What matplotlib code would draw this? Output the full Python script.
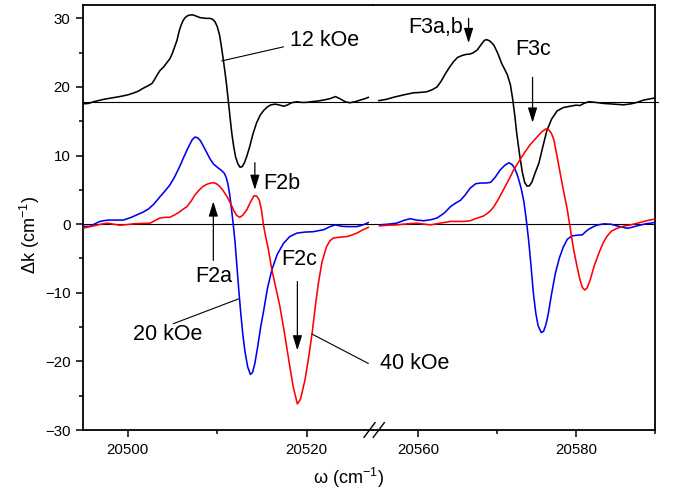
import matplotlib
matplotlib.use("Agg")
import matplotlib.pyplot as plt
from matplotlib.ticker import MultipleLocator, FormatStrFormatter
from matplotlib.patches import ArrowStyle

plt.rcParams["font.family"] = ["Liberation Sans", "DejaVu Sans"]
plt.rcParams["mathtext.fontset"] = "custom"
plt.rcParams["mathtext.rm"] = "Liberation Sans"

# Baseline of the vertically shifted 12 kOe trace
OFFSET_12 = 17.8

# ---- low-frequency window (cm^-1) ----
w_lo_12 = [20495.0, 20495.6, 20496.2, 20497.3, 20498.2, 20499.1, 20500.0, 20500.6, 20501.2,
           20501.7, 20502.3, 20502.7, 20503.0, 20503.3, 20503.6, 20504.0, 20504.4, 20504.7,
           20504.95, 20505.2, 20505.5, 20505.7, 20505.9, 20506.15, 20506.4, 20506.7, 20507.0,
           20507.3, 20507.6, 20508.1, 20508.8, 20509.2, 20509.5, 20509.75, 20510.0, 20510.25,
           20510.45, 20510.65, 20510.85, 20511.05, 20511.25, 20511.45, 20511.65, 20511.85,
           20512.05, 20512.3, 20512.55, 20512.8, 20513.05, 20513.3, 20513.6, 20514.0, 20514.4,
           20514.8, 20515.2, 20515.6, 20516.0, 20516.5, 20517.0, 20517.4, 20517.8, 20518.3,
           20518.9, 20519.4, 20519.9, 20520.5, 20521.2, 20521.9, 20522.6, 20523.2, 20523.7,
           20524.3, 20524.8, 20525.4, 20526.0, 20526.5, 20526.9]
k_lo_12 = [17.55, 17.6, 17.85, 18.2, 18.4, 18.6, 18.85, 19.1, 19.4,
           19.8, 20.2, 20.5, 21.1, 21.8, 22.4, 22.9, 23.6, 24.1,
           24.8, 25.7, 26.8, 27.9, 28.8, 29.6, 30.1, 30.4, 30.5,
           30.5, 30.35, 30.1, 30.0, 30.0, 29.85, 29.5, 28.8, 27.6,
           26.0, 24.2, 22.3, 20.2, 17.8, 15.3, 13.0, 11.2,
           9.8, 8.8, 8.3, 8.4, 9.0, 9.9, 11.2, 13.2, 14.8,
           15.9, 16.6, 17.1, 17.4, 17.5, 17.35, 17.2, 17.35, 17.7,
           17.85, 17.75, 17.75, 17.85, 17.95, 18.1, 18.3, 18.6, 18.3,
           17.85, 17.7, 17.85, 18.1, 18.3, 18.5]

w_lo_20 = [20495.0, 20495.8, 20496.4, 20496.9, 20497.5, 20498.0, 20499.5, 20500.3, 20501.0,
           20501.7, 20502.3, 20502.9, 20503.6, 20504.2, 20504.7, 20505.2, 20505.8, 20506.3,
           20506.8, 20507.2, 20507.5, 20507.8, 20508.1, 20508.4, 20508.8, 20509.2, 20509.6,
           20510.1, 20510.5, 20510.8, 20511.0, 20511.2, 20511.4, 20511.6, 20511.8, 20512.0,
           20512.2, 20512.4, 20512.6, 20512.85, 20513.1, 20513.4, 20513.7, 20513.95, 20514.2,
           20514.5, 20514.85, 20515.2, 20515.6, 20516.1, 20516.7, 20517.4, 20518.1, 20518.9,
           20519.8, 20520.7, 20521.3, 20521.9, 20522.6, 20523.2, 20523.9, 20524.5, 20525.6,
           20526.3, 20526.9]
k_lo_20 = [-0.35, -0.3, 0.1, 0.4, 0.55, 0.6, 0.6, 0.95, 1.35,
           1.75, 2.2, 2.9, 4.0, 4.9, 5.7, 6.8, 8.4, 9.9,
           11.3, 12.3, 12.7, 12.6, 12.2, 11.5, 10.5, 9.5, 8.75,
           8.2, 7.8, 7.4, 6.8, 5.8, 4.2, 2.1, -0.2, -2.8,
           -6.2, -9.5, -12.6, -16.0, -18.6, -20.8, -21.9, -21.6, -20.3,
           -18.0, -15.0, -12.5, -9.4, -6.65, -4.4, -2.8, -1.8, -1.3,
           -1.15, -1.1, -0.95, -0.8, -0.35, -0.1, -0.3, -0.35, -0.35,
           -0.1, 0.25]

w_lo_40 = [20495.0, 20495.6, 20496.2, 20497.0, 20497.7, 20498.4, 20499.1, 20500.0, 20500.6,
           20501.5, 20502.5, 20503.0, 20503.6, 20504.2, 20504.7, 20505.3, 20505.8, 20506.2,
           20506.6, 20507.1, 20507.5, 20508.0, 20508.4, 20508.9, 20509.3, 20509.6, 20509.9,
           20510.2, 20510.6, 20511.1, 20511.5, 20511.8, 20512.15, 20512.5, 20512.85, 20513.3,
           20513.7, 20514.1, 20514.4, 20514.7, 20514.95, 20515.15, 20515.4, 20515.7, 20516.1,
           20516.5, 20517.0, 20517.5, 20518.1, 20518.5, 20518.95, 20519.3, 20519.8, 20520.2,
           20520.6, 20520.95, 20521.3, 20521.7, 20522.2, 20522.6, 20523.0, 20523.7, 20524.5,
           20525.0, 20525.6, 20526.3, 20526.9]
k_lo_40 = [-0.6, -0.4, -0.25, 0.0, 0.15, 0.0, -0.15, -0.05, 0.05,
           0.1, 0.15, 0.5, 0.9, 1.0, 1.0, 1.4, 1.8, 2.2,
           2.55, 3.4, 4.25, 5.0, 5.5, 5.85, 6.0, 6.05, 5.9,
           5.6, 5.0, 4.0, 3.0, 2.1, 1.3, 1.0, 1.3, 2.1,
           3.2, 4.15, 4.1, 3.5, 2.0, 0.0, -1.8, -3.6, -6.65,
           -9.0, -12.0, -15.8, -20.7, -23.8, -26.2, -25.5, -22.7, -19.5,
           -15.9, -12.0, -8.6, -5.5, -3.3, -2.4, -2.0, -1.9, -1.8,
           -1.6, -1.3, -0.8, -0.45]

# ---- high-frequency window (cm^-1) ----
w_hi_12 = [20555.0, 20556.0, 20556.9, 20558.0, 20559.4, 20560.2, 20561.1, 20561.8, 20562.4,
           20562.9, 20563.5, 20564.0, 20564.5, 20565.0, 20565.6, 20566.1, 20566.6, 20567.0,
           20567.5, 20568.0, 20568.4, 20568.7, 20569.1, 20569.6, 20570.1, 20570.6, 20571.0,
           20571.3, 20571.7, 20572.0, 20572.25, 20572.5, 20572.85, 20573.2, 20573.5, 20573.8,
           20574.1, 20574.4, 20574.8, 20575.3, 20575.8, 20576.3, 20576.9, 20577.6, 20578.4,
           20579.3, 20580.0, 20580.5, 20581.0, 20581.6, 20582.5, 20583.5, 20584.8, 20586.0,
           20587.0, 20587.7, 20588.6, 20590.0]
k_hi_12 = [18.0, 18.2, 18.5, 18.8, 19.15, 19.2, 19.3, 19.6, 20.0,
           20.8, 22.0, 22.9, 23.7, 24.3, 24.6, 24.75, 24.8, 25.0,
           25.4, 26.2, 26.8, 26.9, 26.7, 26.1, 24.9, 23.4, 22.5,
           21.8, 20.3, 18.1, 15.8, 13.2, 10.2, 7.6, 6.1, 5.55,
           5.6, 6.1, 7.4, 8.9, 11.3, 13.6, 15.3, 16.5, 17.0,
           17.2, 17.35, 17.3, 17.6, 17.85, 17.75, 17.6, 17.5, 17.4,
           17.55, 17.75, 18.1, 18.4]

w_hi_20 = [20555.1, 20556.2, 20557.3, 20558.2, 20559.0, 20559.8, 20560.7, 20561.6, 20562.4,
           20563.3, 20564.1, 20564.8, 20565.4, 20566.0, 20566.6, 20567.3, 20567.9, 20568.6,
           20569.2, 20569.8, 20570.4, 20571.0, 20571.5, 20571.9, 20572.2, 20572.5, 20572.8,
           20573.1, 20573.4, 20573.7, 20574.0, 20574.3, 20574.6, 20574.9, 20575.2, 20575.6,
           20575.9, 20576.2, 20576.5, 20576.9, 20577.4, 20577.9, 20578.4, 20578.9, 20579.5,
           20580.2, 20580.8, 20581.3, 20581.8, 20582.6, 20583.5, 20584.4, 20585.2, 20586.5,
           20587.1, 20587.7, 20588.8, 20590.0]
k_hi_20 = [-0.1, 0.0, 0.15, 0.55, 0.8, 0.6, 0.5, 0.65, 0.9,
           1.6, 2.55, 3.1, 3.5, 4.3, 5.25, 5.9, 6.0, 6.0,
           6.1, 6.9, 7.9, 8.6, 8.95, 8.7, 8.2, 7.4, 6.3,
           5.0, 3.3, 0.7, -2.3, -6.0, -10.0, -12.9, -14.8, -15.8,
           -15.6, -14.6, -13.0, -10.2, -7.1, -4.9, -3.3, -2.2, -1.7,
           -1.6, -1.55, -1.0, -0.6, -0.15, 0.05, 0.0, -0.25, -0.6,
           -0.45, -0.25, 0.05, 0.25]

w_hi_40 = [20555.1, 20556.2, 20557.3, 20558.6, 20559.9, 20560.8, 20561.6, 20562.8, 20564.1,
           20565.8, 20566.6, 20567.5, 20568.3, 20568.8, 20569.2, 20569.6, 20570.2, 20570.8,
           20571.5, 20572.1, 20572.8, 20573.4, 20574.2, 20575.1, 20575.7, 20576.2, 20576.6,
           20576.9, 20577.2, 20577.6, 20578.0, 20578.45, 20578.9, 20579.3, 20579.7, 20580.1,
           20580.5, 20580.8, 20581.1, 20581.4, 20581.8, 20582.3, 20582.9, 20583.4, 20583.9,
           20584.5, 20585.2, 20586.0, 20586.9, 20587.8, 20588.6, 20589.3, 20590.0]
k_hi_40 = [-0.25, -0.15, -0.1, 0.05, 0.15, 0.0, -0.1, 0.15, 0.4,
           0.4, 0.5, 0.9, 1.2, 1.6, 2.0, 2.55, 3.7, 5.0,
           6.5, 7.9, 9.2, 10.3, 11.6, 12.75, 13.5, 13.9, 13.7,
           13.2, 12.3, 9.9, 7.4, 4.7, 2.1, -0.8, -3.7, -6.0,
           -8.1, -9.2, -9.6, -9.3, -8.1, -6.1, -4.2, -2.8, -1.8,
           -1.0, -0.6, -0.3, -0.1, 0.15, 0.4, 0.6, 0.75]

XLIM_LO = (20495.0, 20527.4)
XLIM_HI = (20554.3, 20590.0)
YLIM = (-30, 31.95)

C12, C20, C40 = "black", "#0000f0", "#ff0000"
LW = 1.15
TICK_FS = 10.8
LABEL_FS = 13
NOTE_FS = 15.5

W, H = 675, 492
fig = plt.figure(figsize=(W / 100, H / 100), dpi=100)
ax1 = fig.add_axes([83 / W, 62 / H, 290 / W, 425 / H])
ax2 = fig.add_axes([373 / W, 62 / H, 282 / W, 425 / H], sharey=ax1)
for a in (ax1, ax2):
    a.patch.set_alpha(0)

for ax, xl in ((ax1, XLIM_LO), (ax2, XLIM_HI)):
    ax.set_xlim(*xl)
    ax.set_ylim(*YLIM)
    ax.axhline(0, color="black", lw=0.8, zorder=1)
    for s in ax.spines.values():
        s.set_linewidth(1.3)
    ax.xaxis.set_major_locator(MultipleLocator(20))
    ax.xaxis.set_minor_locator(MultipleLocator(10))
    ax.xaxis.set_major_formatter(FormatStrFormatter("%d"))
    ax.tick_params(axis="both", which="major", direction="out", length=5, width=1.1,
                   labelsize=TICK_FS, pad=4)
    ax.tick_params(axis="both", which="minor", direction="out", length=2.7, width=1.1)
    ax.tick_params(top=False, right=False, which="both")

ax1.axhline(OFFSET_12, color="black", lw=0.8, zorder=1)
ax2.axhline(OFFSET_12, xmax=1.012, color="black", lw=0.8, zorder=1, clip_on=False)

ax1.spines["right"].set_visible(False)
ax2.spines["left"].set_visible(False)
ax2.tick_params(axis="y", which="both", left=False, labelleft=False)
ax1.yaxis.set_major_locator(MultipleLocator(10))
ax1.yaxis.set_minor_locator(MultipleLocator(5))

style = dict(lw=LW, zorder=3, solid_joinstyle="round", solid_capstyle="round")
ax1.plot(w_lo_12, k_lo_12, color=C12, **style)
ax1.plot(w_lo_20, k_lo_20, color=C20, **style)
ax1.plot(w_lo_40, k_lo_40, color=C40, **style)
ax2.plot(w_hi_12, k_hi_12, color=C12, **style)
ax2.plot(w_hi_20, k_hi_20, color=C20, **style)
ax2.plot(w_hi_40, k_hi_40, color=C40, **style)

# axis break marks on the bottom spine
for x0 in (0.969, 1.001):
    ax1.plot([x0, x0 + 0.038], [-0.0172, 0.0172], transform=ax1.transAxes,
             color="black", lw=1.0, clip_on=False, zorder=5)

# labels
fig.text(348 / W, 1 - 478 / H, r"ω (cm$^{\mathregular{-1}}$)", ha="center", va="center",
         fontsize=LABEL_FS)
fig.text(30 / W, 1 - 235 / H, r"Δk (cm$^{\mathregular{-1}}$)", ha="center", va="center",
         rotation=90, fontsize=LABEL_FS)

arrow = dict(arrowstyle=ArrowStyle("-|>", head_length=0.45, head_width=0.14),
             mutation_scale=20, color="black", lw=0.9, shrinkA=0, shrinkB=0)
leader = dict(arrowstyle="-", color="black", lw=0.8, shrinkA=0, shrinkB=0)

# field labels with leader lines
ax1.annotate("", xy=(20510.5, 23.8), xytext=(20517.4, 25.85), arrowprops=leader)
ax1.text(20518.15, 26.8, "12 kOe", fontsize=NOTE_FS, ha="left", va="center")
ax1.annotate("", xy=(20512.36, -10.9), xytext=(20505.1, -14.5), arrowprops=leader)
ax1.text(20500.56, -16.1, "20 kOe", fontsize=NOTE_FS, ha="left", va="center")
ax1.annotate("", xy=(20520.56, -16.0), xytext=(20526.88, -20.3), arrowprops=leader)
ax2.text(20555.15, -20.3, "40 kOe", fontsize=NOTE_FS, ha="left", va="center")

# feature markers
ax1.annotate("", xy=(20514.2, 5.0), xytext=(20514.2, 8.97), arrowprops=arrow)
ax1.text(20515.15, 5.87, "F2b", fontsize=NOTE_FS, ha="left", va="center")
ax1.annotate("", xy=(20509.56, 3.32), xytext=(20509.56, -5.27), arrowprops=arrow)
ax1.text(20507.5, -7.63, "F2a", fontsize=NOTE_FS, ha="left", va="center")
ax1.annotate("", xy=(20518.95, -18.4), xytext=(20518.95, -8.36), arrowprops=arrow)
ax1.text(20517.2, -5.1, "F2c", fontsize=NOTE_FS, ha="left", va="center")
ax2.annotate("", xy=(20566.4, 26.4), xytext=(20566.4, 30.0), arrowprops=arrow)
ax2.text(20558.7, 28.7, "F3a,b", fontsize=NOTE_FS, ha="left", va="center")
ax2.annotate("", xy=(20574.5, 14.8), xytext=(20574.5, 21.4), arrowprops=arrow)
ax2.text(20572.3, 25.4, "F3c", fontsize=NOTE_FS, ha="left", va="center")

fig.savefig("out.png", dpi=100)
